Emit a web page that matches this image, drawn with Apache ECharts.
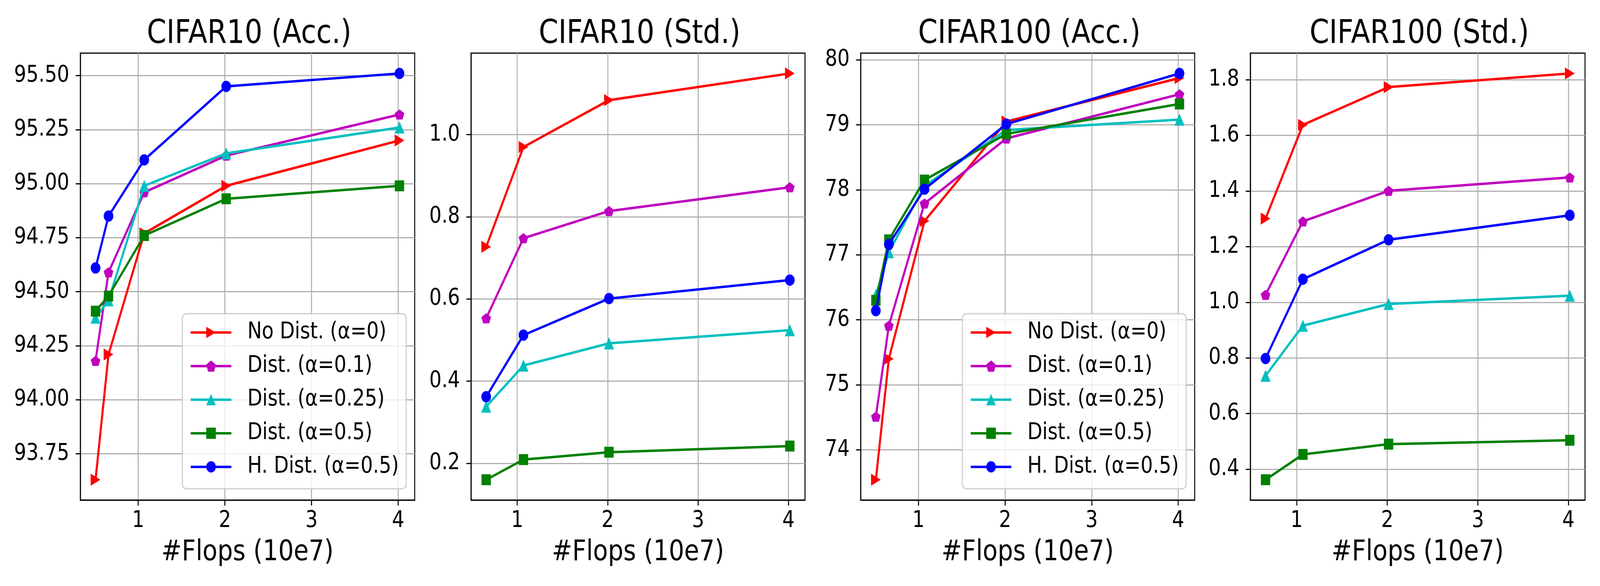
<!DOCTYPE html>
<html><head><meta charset="utf-8">
<script src="https://cdn.jsdelivr.net/npm/echarts@6/dist/echarts.min.js"></script>
<style>html,body{margin:0;padding:0;background:#fff;overflow:hidden}#c{width:4800px;height:1500px;transform-origin:0 0}</style>
</head><body><div id="c"></div>
<script>
// ---------------- data ----------------
const flops = [0.507, 0.657, 1.069, 2.015, 4.015];          // #Flops (10e7)
const flopsStd = [0.657, 1.069, 2.015, 4.015];               // std panels start at 2nd model
const seriesNames = ['No Dist. (α=0)', 'Dist. (α=0.1)', 'Dist. (α=0.25)', 'Dist. (α=0.5)', 'H. Dist. (α=0.5)'];
const panelTitles = ['CIFAR10 (Acc.)', 'CIFAR10 (Std.)', 'CIFAR100 (Acc.)', 'CIFAR100 (Std.)'];
const xTicks = [1, 2, 3, 4];

// CIFAR10 accuracy
const c10AccNoDist = [93.63, 94.21, 94.77, 94.99, 95.20];
const c10AccDist01 = [94.18, 94.59, 94.96, 95.13, 95.32];
const c10AccDist025 = [94.38, 94.46, 94.99, 95.14, 95.26];
const c10AccDist05 = [94.41, 94.48, 94.76, 94.93, 94.99];
const c10AccHDist05 = [94.61, 94.85, 95.11, 95.45, 95.51];
const c10AccTicks = [93.75, 94.00, 94.25, 94.50, 94.75, 95.00, 95.25, 95.50];

// CIFAR10 std
const c10StdNoDist = [0.727, 0.970, 1.084, 1.149];
const c10StdDist01 = [0.553, 0.748, 0.814, 0.872];
const c10StdDist025 = [0.338, 0.438, 0.492, 0.524];
const c10StdDist05 = [0.160, 0.209, 0.227, 0.242];
const c10StdHDist05 = [0.362, 0.512, 0.601, 0.646];
const c10StdTicks = [0.2, 0.4, 0.6, 0.8, 1.0];

// CIFAR100 accuracy
const c100AccNoDist = [73.54, 75.40, 77.52, 79.05, 79.72];
const c100AccDist01 = [74.51, 75.91, 77.79, 78.79, 79.47];
const c100AccDist025 = [76.38, 77.04, 78.06, 78.92, 79.08];
const c100AccDist05 = [76.30, 77.23, 78.15, 78.86, 79.32];
const c100AccHDist05 = [76.14, 77.16, 78.01, 79.01, 79.79];
const c100AccTicks = [74, 75, 76, 77, 78, 79, 80];

// CIFAR100 std
const c100StdNoDist = [1.301, 1.638, 1.774, 1.823];
const c100StdDist01 = [1.027, 1.291, 1.401, 1.449];
const c100StdDist025 = [0.736, 0.916, 0.994, 1.024];
const c100StdDist05 = [0.362, 0.453, 0.490, 0.504];
const c100StdHDist05 = [0.798, 1.083, 1.225, 1.313];
const c100StdTicks = [0.4, 0.6, 0.8, 1.0, 1.2, 1.4, 1.6, 1.8];

// ---------------- layout / style ----------------
const el = document.getElementById('c');
// fit the 4800x1500 design into whatever viewport the browser really has
const vw = window.innerWidth || 4800, vh = window.innerHeight || 1500;
if (vw !== 4800 || vh !== 1500) {
  el.style.transform = 'scale(' + (vw / 4800) + ',' + (vh / 1500) + ')';
}

const FONT = 'DejaVu Sans';
const colors = ['#ff0000', '#bf00bf', '#00bfbf', '#008000', '#0000ff'];
const symbols = [
  'path://M0,0L20,10L0,20Z',
  'path://M50,0L97.55,34.55L79.4,90.45L20.6,90.45L2.45,34.55Z',
  'triangle', 'rect', 'circle'
];
const symbolSizes = [[29, 31], [29, 26], [30, 31], 28, 29];

const panels = [
  { x: flops, ys: [c10AccNoDist, c10AccDist01, c10AccDist025, c10AccDist05, c10AccHDist05], ticks: c10AccTicks, dec: 2, left: 241, width: 1003 },
  { x: flopsStd, ys: [c10StdNoDist, c10StdDist01, c10StdDist025, c10StdDist05, c10StdHDist05], ticks: c10StdTicks, dec: 1, left: 1413, width: 1002 },
  { x: flops, ys: [c100AccNoDist, c100AccDist01, c100AccDist025, c100AccDist05, c100AccHDist05], ticks: c100AccTicks, dec: 0, left: 2582, width: 1002 },
  { x: flopsStd, ys: [c100StdNoDist, c100StdDist01, c100StdDist025, c100StdDist05, c100StdHDist05], ticks: c100StdTicks, dec: 1, left: 3751, width: 1004 }
];
const TOP = 136, HEIGHT = 1144;

function autoRange(arr) {
  const mn = Math.min(...arr), mx = Math.max(...arr);
  const m = (mx - mn) * 0.05;
  return [mn - m, mx + m];
}

const grids = [], xAxes = [], yAxes = [], series = [], titles = [];
panels.forEach((p, i) => {
  grids.push({ left: p.left, top: TOP, width: p.width, height: HEIGHT, show: true,
    borderColor: '#000', borderWidth: 3, backgroundColor: 'transparent', containLabel: false, outerBoundsMode: 'none' });
  const xr = autoRange(p.x);
  const yr = autoRange([].concat(...p.ys));
  xAxes.push({
    type: 'value', gridIndex: i, min: xr[0], max: xr[1],
    axisLine: { show: true, onZero: false, lineStyle: { color: '#000', width: 3 } },
    axisTick: { show: true, customValues: xTicks, length: 14, lineStyle: { color: '#000', width: 3 } },
    axisLabel: { show: true, customValues: xTicks, fontSize: 58, color: '#000', fontFamily: FONT, margin: 25,
      formatter: v => String(v) },
    splitLine: { show: true, lineStyle: { color: '#b0b0b0', width: 3 } },
    name: '#Flops (10e7)', nameLocation: 'middle', nameGap: 99,
    nameTextStyle: { fontSize: 73, color: '#000', fontFamily: FONT }
  });
  yAxes.push({
    type: 'value', gridIndex: i, min: yr[0], max: yr[1],
    axisLine: { show: true, onZero: false, lineStyle: { color: '#000', width: 3 } },
    axisTick: { show: true, customValues: p.ticks, length: 14, lineStyle: { color: '#000', width: 3 } },
    axisLabel: { show: true, customValues: p.ticks, fontSize: 58, color: '#000', fontFamily: FONT, margin: 33,
      formatter: v => Number(v).toFixed(p.dec) },
    splitLine: { show: true, lineStyle: { color: '#b0b0b0', width: 3 } }
  });
  titles.push({ text: panelTitles[i], left: p.left + p.width / 2, top: 41, textAlign: 'center',
    textStyle: { fontSize: 84, fontWeight: 'normal', color: '#000', fontFamily: FONT } });
  p.ys.forEach((vals, j) => {
    series.push({
      type: 'line', name: seriesNames[j], xAxisIndex: i, yAxisIndex: i,
      data: p.x.map((xv, k) => [xv, vals[k]]),
      symbol: symbols[j], symbolSize: symbolSizes[j], showAllSymbol: true,
      lineStyle: { color: colors[j], width: 6.25 },
      itemStyle: { color: colors[j], borderWidth: 0 },
      emphasis: { disabled: true }, silent: true, clip: false, z: 2 + j
    });
  });
});

function legendAt(left) {
  return {
    left: left, top: 803, orient: 'vertical', data: seriesNames,
    itemWidth: 122, itemHeight: 36, itemGap: 28,
    padding: [19, 22, 27, 22],
    backgroundColor: 'rgba(255,255,255,0.8)', borderColor: 'rgba(204,204,204,0.9)', borderWidth: 3.5, borderRadius: 12,
    lineStyle: { width: 6.25 },
    itemStyle: { borderWidth: 0 },
    textStyle: { fontSize: 58, color: '#000', fontFamily: FONT, lineHeight: 58, padding: [0, 0, 0, 43] },
    selectedMode: false
  };
}

const chart = echarts.init(el, null, { renderer: 'canvas', width: 4800, height: 1500 });
chart.setOption({
  animation: false,
  backgroundColor: '#fff',
  title: titles,
  grid: grids,
  xAxis: xAxes,
  yAxis: yAxes,
  legend: [legendAt(547), legendAt(2887)],
  series: series
});
</script></body></html>
